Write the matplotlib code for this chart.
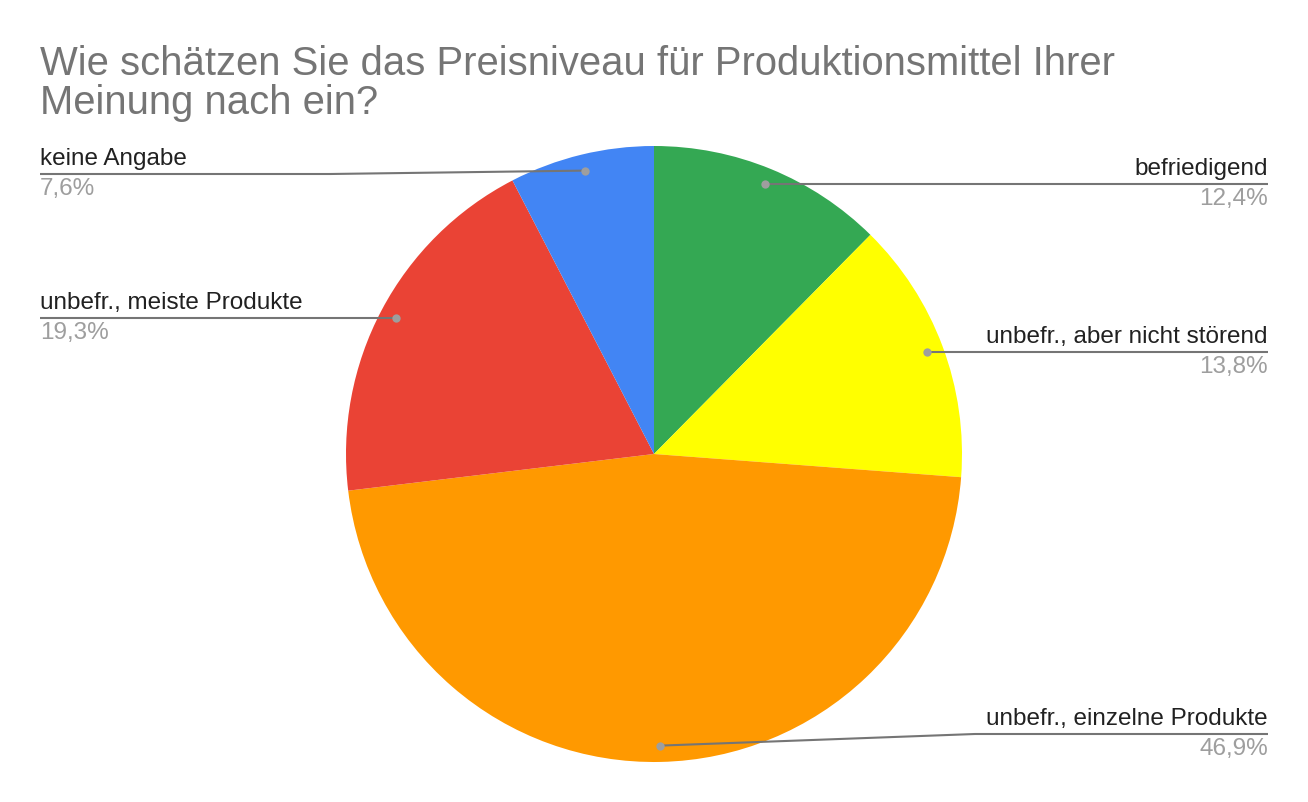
import numpy as np
import matplotlib.pyplot as plt

plt.rcParams["font.family"] = ["Liberation Sans", "DejaVu Sans"]

# ============================================================
# DATA
# ============================================================

title = "Wie schätzen Sie das Preisniveau für Produktionsmittel Ihrer\nMeinung nach ein?"
categories = [
    "befriedigend",
    "unbefr., aber nicht störend",
    "unbefr., einzelne Produkte",
    "unbefr., meiste Produkte",
    "keine Angabe",
]
shares = [12.4, 13.8, 46.9, 19.3, 7.6]
pct_labels = ["12,4%", "13,8%", "46,9%", "19,3%", "7,6%"]
colors = ["#34A853", "#FFFF00", "#FF9900", "#EA4335", "#4285F4"]

# ============================================================
# LAYOUT (pixel space, y up)
# ============================================================

W, H = 1308, 802
cx, cy = 654, H - 454
radius = 308
dot_frac = 0.947
left_x, right_x = 40, 1268
# label line height override (pixel y from top) and elbow x, None = straight
label_y_override = [None, None, 734, None, 174]
elbow_x = [None, None, 975, None, 330]

fig = plt.figure(figsize=(W / 100, H / 100), dpi=100)
ax = fig.add_axes([0, 0, 1, 1])
ax.set_xlim(0, W)
ax.set_ylim(0, H)
ax.set_aspect("equal")
ax.axis("off")

ax.pie(
    shares,
    colors=colors,
    startangle=90,
    counterclock=False,
    center=(cx, cy),
    radius=radius,
    wedgeprops={"linewidth": 0},
)
ax.set_xlim(0, W)
ax.set_ylim(0, H)

fig.text(40 / W, 1 - 45 / H, title, ha="left", va="top",
         fontsize=28.8, color="#757575", linespacing=1.05)

line_col = "#757575"
dot_col = "#9E9E9E"

total = sum(shares)
cum = 0.0
for i, (cat, val, pct) in enumerate(zip(categories, shares, pct_labels)):
    mid = (cum + val / 2) / total
    cum += val
    theta = np.deg2rad(90 - 360 * mid)
    dx = cx + dot_frac * radius * np.cos(theta)
    dy = cy + dot_frac * radius * np.sin(theta)
    right = dx >= cx
    ly = dy if label_y_override[i] is None else H - label_y_override[i]
    ex = dx if elbow_x[i] is None else elbow_x[i]
    edge = right_x if right else left_x

    ax.plot([dx, ex, edge], [dy, ly, ly], color=line_col, lw=1.5,
            solid_capstyle="butt", zorder=3)
    ax.plot(dx, dy, "o", ms=6, color=dot_col, mec="none", zorder=4)

    ha = "right" if right else "left"
    ax.text(edge, ly + 4, cat, ha=ha, va="bottom", fontsize=17.5, color="#212121")
    ax.text(edge, ly - 4, pct, ha=ha, va="top", fontsize=17.5, color="#9E9E9E")

fig.savefig("out.png", dpi=100)
